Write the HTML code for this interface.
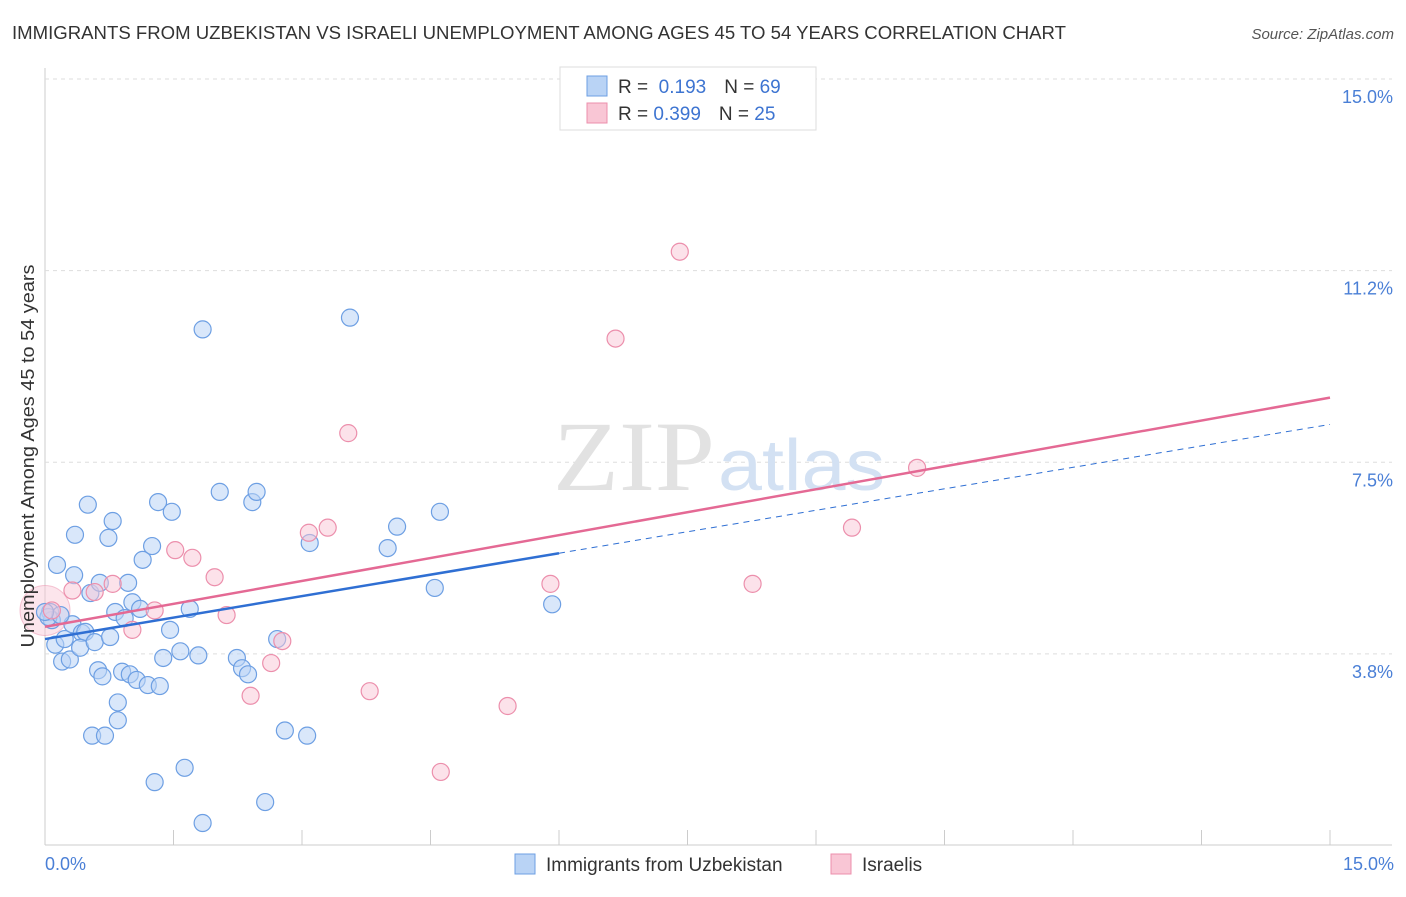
<!DOCTYPE html>
<html><head><meta charset="utf-8"><style>
body{margin:0;background:#fff;font-family:"Liberation Sans",sans-serif;}
</style></head><body>
<svg width="1406" height="892" xmlns="http://www.w3.org/2000/svg">
<text x="12" y="39" font-size="18.5" fill="#333" textLength="1054" lengthAdjust="spacingAndGlyphs">IMMIGRANTS FROM UZBEKISTAN VS ISRAELI UNEMPLOYMENT AMONG AGES 45 TO 54 YEARS CORRELATION CHART</text>
<text x="1394" y="39" font-size="15" fill="#555" font-style="italic" text-anchor="end">Source: ZipAtlas.com</text>
<g id="grid"></g>
<text x="553" y="490" font-size="100" fill="#e2e2e2" font-family="Liberation Serif" textLength="162" lengthAdjust="spacingAndGlyphs">ZIP</text>
<text x="718" y="490" font-size="72" fill="#d3e1f3" textLength="167" lengthAdjust="spacingAndGlyphs">atlas</text>
<g id="marks"></g>
<text x="34" y="456" font-size="18.5" fill="#333" text-anchor="middle" textLength="383" lengthAdjust="spacingAndGlyphs" transform="rotate(-90 34 456)">Unemployment Among Ages 45 to 54 years</text>
<text x="45" y="870" font-size="18" fill="#4a7fd6">0.0%</text>
<text x="1394" y="870" font-size="18" fill="#4a7fd6" text-anchor="end">15.0%</text>
<g>
<rect x="560" y="67" width="256" height="63" fill="#fff" stroke="#ddd"/>
<rect x="587" y="76" width="20" height="20" fill="#b9d3f5" stroke="#6d9fe3"/>
<rect x="587" y="103" width="20" height="20" fill="#f9c6d5" stroke="#ec8fac"/>
<text x="618" y="93" font-size="19" fill="#333">R = <tspan fill="#3d74d1">&#160;0.193</tspan><tspan dx="18">N = </tspan><tspan fill="#3d74d1">69</tspan></text>
<text x="618" y="120" font-size="19" fill="#333">R = <tspan fill="#3d74d1">0.399</tspan><tspan dx="18">N = </tspan><tspan fill="#3d74d1">25</tspan></text>
</g>
<g>
<rect x="515" y="854" width="20" height="20" fill="#b9d3f5" stroke="#6d9fe3"/>
<text x="546" y="871" font-size="19" fill="#333">Immigrants from Uzbekistan</text>
<rect x="831" y="854" width="20" height="20" fill="#f9c6d5" stroke="#ec8fac"/>
<text x="862" y="871" font-size="19" fill="#333">Israelis</text>
</g>
</svg>
<script>
const yTicks=[3.8,7.5,11.2,15.0];
const blueX=[0.06,0.08,0.14,0.12,0.2,0.23,0.29,0.32,0.35,0.34,0.43,0.47,0.41,0.5,0.53,0.55,0.58,0.62,0.64,0.67,0.7,0.74,0.76,0.79,0.82,0.85,0.85,0.9,0.93,0.97,0.99,1.02,1.07,1.11,1.14,1.2,1.25,1.28,1.32,1.34,1.38,1.46,1.48,1.58,1.63,1.69,1.79,1.84,1.84,2.04,2.24,2.3,2.37,2.42,2.47,2.57,2.71,2.8,3.06,3.09,3.56,4.0,4.11,4.55,4.61,5.92,0.04,0.18,0.0];
const blueY=[4.57,4.41,5.49,3.93,3.6,4.04,3.64,4.33,6.08,5.29,4.16,4.18,3.87,6.67,4.94,2.15,3.98,3.43,5.14,3.31,2.15,6.02,4.08,6.35,4.57,2.8,2.45,3.4,4.45,5.14,3.35,4.76,3.24,4.63,5.59,3.14,5.86,1.24,6.72,3.12,3.67,4.22,6.53,3.8,1.52,4.63,3.72,10.1,0.44,6.92,3.67,3.47,3.35,6.72,6.92,0.85,4.04,2.25,2.15,5.92,10.33,5.82,6.24,5.04,6.53,4.72,4.47,4.51,4.57];
const pinkX=[0.08,0.32,0.58,0.79,1.02,1.28,1.52,1.72,1.98,2.12,2.4,2.64,2.77,3.08,3.3,3.54,3.79,4.62,5.4,5.9,6.66,7.41,8.26,9.42,10.18];
const pinkY=[4.6,4.99,4.96,5.12,4.22,4.6,5.78,5.63,5.25,4.51,2.93,3.57,4.0,6.12,6.22,8.07,3.02,1.44,2.73,5.12,9.92,11.62,5.12,6.22,7.39];
const X=v=>45+v*(1285/15), Y=v=>845.5-v*(766.5/15);
const ns="http://www.w3.org/2000/svg";
function mk(t,a,p){const e=document.createElementNS(ns,t);for(const k in a)e.setAttribute(k,a[k]);p.appendChild(e);return e;}
const g=document.getElementById('grid'),m=document.getElementById('marks');
mk('line',{x1:45,y1:845,x2:1392,y2:845,stroke:'#ccc'},g);
mk('line',{x1:45,y1:68,x2:45,y2:845,stroke:'#ccc'},g);
for(let i=0;i<=10;i++){const l=mk('line',{x1:X(i*1.5),y1:830,x2:X(i*1.5),y2:845,stroke:'#ccc'},g);}
yTicks.forEach((t,i)=>{const yy=Y(t===3.8?3.75:t===11.2?11.25:t);
const l=mk('line',{x1:45,y1:yy,x2:1392,y2:yy,stroke:'#ddd','stroke-dasharray':'4,4'},g);


const tx=mk('text',{x:1393,y:yy+24,'font-size':18,fill:'#4a7fd6','text-anchor':'end'},g);tx.textContent=t.toFixed(1)+'%';

});
const big=mk('circle',{cx:X(0.0),cy:Y(4.6),r:25,fill:'rgba(249,198,213,0.45)',stroke:'rgba(236,143,172,0.5)'},m);


blueX.forEach((x,i)=>{const c=mk('circle',{cx:X(x),cy:Y(blueY[i]),r:8.5,fill:'rgba(185,211,245,0.55)',stroke:'#6d9fe3','stroke-width':1.2},m);

});
pinkX.forEach((x,i)=>{const c=mk('circle',{cx:X(x),cy:Y(pinkY[i]),r:8.5,fill:'rgba(249,198,213,0.5)',stroke:'#ec8fac','stroke-width':1.2},m);

});
const bA=4.04,bB=0.28,pA=4.28,pB=0.299;
let l=mk('line',{x1:X(0),y1:Y(bA),x2:X(6),y2:Y(bA+bB*6),stroke:'#2f6fd3','stroke-width':2.5},m);


l=mk('line',{x1:X(6),y1:Y(bA+bB*6),x2:X(15),y2:Y(bA+bB*15),stroke:'#2f6fd3','stroke-width':1,'stroke-dasharray':'6,5'},m);


l=mk('line',{x1:X(0),y1:Y(pA),x2:X(15),y2:Y(pA+pB*15),stroke:'#e46994','stroke-width':2.5},m);


</script>
</body></html>
